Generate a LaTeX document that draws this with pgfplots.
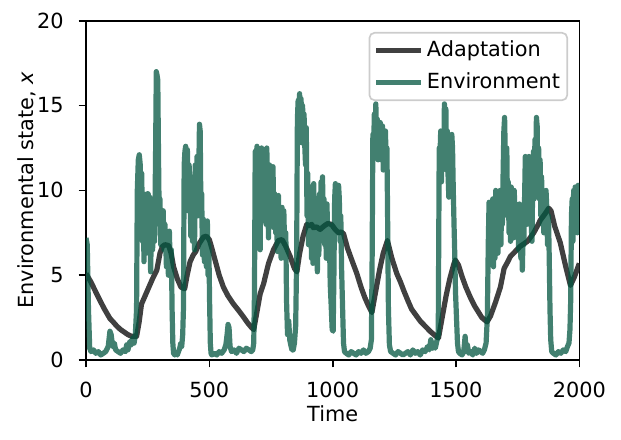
\documentclass[border=0pt]{standalone}
\usepackage{fontspec}
\setmainfont{DejaVu Sans}
\usepackage{pgfplots}
\usepackage{pgfplotstable}
\pgfplotsset{compat=1.18}
\definecolor{envc}{RGB}{3,86,64}
\definecolor{adac}{RGB}{64,64,64}
\definecolor{legedge}{RGB}{204,204,204}

\pgfplotstableread{
t y
0 5.1
20 4.6
40 4.0
57 3.5
75 3.0
97 2.45
110 2.25
125 2.0
140 1.8
155 1.65
170 1.5
185 1.4
205 1.4
215 2.2
225 3.3
240 3.8
255 4.3
270 4.8
287 5.3
300 6.3
310 6.7
320 6.8
335 6.75
345 6.3
355 5.5
370 4.8
385 4.3
400 4.2
410 5.0
422 5.8
435 6.2
445 6.4
460 6.9
476 7.25
488 7.3
500 7.1
510 6.6
525 5.8
540 5.0
557 4.3
575 3.8
598 3.3
620 2.9
638 2.55
655 2.2
672 1.9
680 1.8
690 2.6
706 3.9
720 4.5
740 5.7
760 6.5
780 7.05
795 7.1
810 6.7
828 6.1
845 5.4
855 5.2
865 6.2
880 7.3
895 8.0
905 7.9
915 8.0
922 7.8
935 7.85
949 7.7
965 7.9
980 8.05
995 8.0
1010 7.7
1024 7.5
1035 7.55
1044 7.45
1060 6.6
1080 5.8
1098 5.1
1115 4.3
1130 3.7
1145 3.2
1159 2.8
1175 4.1
1190 5.3
1205 6.3
1222 7.05
1240 6.0
1260 5.1
1275 4.6
1288 4.1
1305 3.5
1320 3.0
1340 2.6
1355 2.3
1375 2.0
1395 1.7
1415 1.45
1429 1.3
1445 2.6
1460 3.8
1475 4.8
1490 5.6
1497 5.9
1510 5.6
1525 4.9
1540 4.3
1558 3.7
1575 3.2
1590 2.85
1605 2.5
1626 2.25
1640 2.6
1660 3.4
1680 4.3
1695 5.4
1710 5.8
1720 6.1
1740 6.4
1760 6.7
1775 6.85
1790 7.0
1805 7.3
1815 7.5
1830 7.9
1842 8.25
1860 8.6
1876 8.95
1885 8.8
1900 7.9
1923 6.9
1945 5.5
1964 4.4
1980 4.9
2000 5.7
}\adaptation

\pgfplotstableread{
t y
0 7.2
5 6.8
10 3.0
15 0.7
20 0.5
30 0.6
40 0.4
50 0.5
60 0.3
70 0.4
80 0.5
90 0.8
97 1.7
102 1.5
108 0.8
115 1.0
120 0.6
130 0.5
140 0.4
150 0.6
160 0.5
165 0.9
170 0.6
178 1.1
185 0.9
190 1.3
195 1.0
200 1.5
205 3.0
208 10.0
212 11.8
216 12.1
220 11.5
223 9.2
226 11.0
229 7.0
232 9.8
235 5.8
238 9.5
242 8.8
245 6.3
248 9.8
252 9.8
255 7.0
258 9.6
262 5.2
266 8.5
270 6.5
274 9.0
278 7.0
282 12.0
285 17.0
288 16.8
291 16.5
294 12.0
297 8.0
300 9.5
303 6.8
306 8.5
310 7.5
313 8.8
316 6.5
320 8.0
323 7.0
326 5.5
330 7.2
334 5.0
338 7.6
342 5.2
346 6.5
349 3.0
352 1.0
355 0.4
360 0.3
365 0.4
370 0.3
375 0.5
380 0.7
384 1.0
388 0.8
392 1.5
395 3.0
398 11.5
401 12.3
404 12.6
408 9.5
411 12.4
414 8.8
418 11.5
421 10.5
425 7.3
428 9.8
432 7.0
436 10.8
440 6.5
443 11.5
447 9.0
450 12.0
454 8.5
457 11.0
460 13.9
463 13.5
466 8.5
469 9.8
472 6.2
476 8.3
480 5.8
484 7.6
488 5.5
492 8.2
495 5.0
498 6.8
501 3.5
504 1.0
507 0.4
510 0.3
520 0.4
530 0.3
540 0.5
550 0.4
560 0.6
567 0.9
572 1.5
576 2.1
580 1.9
584 0.8
590 0.5
600 0.6
610 0.4
620 0.7
630 0.6
640 0.5
650 0.7
660 0.6
670 0.5
676 0.6
680 1.0
683 4.0
686 12.3
690 11.5
693 12.6
697 11.0
700 12.4
703 8.0
706 6.5
709 11.2
712 12.5
716 12.2
719 9.0
722 11.5
726 11.8
730 8.0
733 12.5
737 9.5
740 7.2
744 11.5
747 9.3
751 10.5
755 8.0
758 11.4
762 7.8
765 9.8
769 7.5
772 8.5
776 6.4
780 9.7
784 7.3
787 8.7
791 6.0
795 9.0
799 7.4
802 8.8
806 6.2
810 7.5
813 3.5
817 1.5
822 2.3
826 1.2
830 0.9
835 0.6
840 0.6
845 1.0
850 2.0
854 6.0
857 14.2
860 15.3
863 15.0
866 15.7
869 13.5
872 15.4
875 12.8
878 15.0
881 13.2
884 14.5
887 12.6
890 11.5
893 13.7
896 8.5
899 11.0
902 6.8
905 9.5
908 7.5
911 10.2
914 6.0
917 8.5
920 5.7
923 10.4
926 8.0
929 6.6
932 9.0
935 7.5
938 5.2
941 8.5
944 6.2
947 9.8
950 7.0
953 10.5
956 8.0
959 10.8
962 7.2
965 9.5
968 6.8
971 8.8
974 6.0
977 9.2
980 7.0
983 6.2
986 8.0
990 4.5
994 3.2
998 1.8
1002 1.7
1005 5.0
1008 9.5
1011 10.4
1014 8.0
1017 9.8
1020 7.5
1024 10.3
1027 9.5
1030 7.0
1033 8.5
1036 5.5
1040 3.2
1044 1.0
1048 0.5
1055 0.4
1065 0.3
1075 0.5
1085 0.4
1095 0.3
1105 0.5
1115 0.4
1125 0.6
1135 0.4
1145 0.5
1152 0.7
1157 1.2
1160 6.0
1163 13.3
1166 12.5
1169 14.5
1172 13.2
1175 15.1
1178 12.8
1181 14.2
1184 11.8
1187 13.9
1190 12.5
1193 14.0
1196 12.0
1199 11.8
1202 13.8
1205 11.2
1208 12.2
1211 12.0
1214 13.5
1217 11.5
1220 12.5
1223 8.0
1226 3.0
1230 0.9
1235 0.5
1245 0.4
1255 0.3
1265 0.5
1275 0.4
1285 0.3
1295 0.4
1305 0.5
1315 0.3
1325 0.6
1335 0.4
1345 0.5
1355 0.3
1365 0.6
1375 0.5
1385 0.8
1392 0.6
1398 1.2
1404 0.7
1410 1.0
1416 0.7
1422 1.1
1428 1.5
1432 12.5
1435 12.0
1438 13.5
1441 10.5
1444 12.8
1447 13.5
1450 11.5
1453 15.1
1456 13.2
1459 14.8
1462 11.2
1465 13.5
1468 10.8
1471 9.6
1474 12.0
1477 13.0
1480 10.5
1483 13.3
1486 12.5
1489 10.0
1492 8.0
1495 6.2
1498 4.0
1502 2.5
1506 1.0
1510 0.5
1515 0.4
1525 0.3
1532 0.6
1537 1.4
1541 0.5
1546 0.9
1552 0.4
1560 0.5
1568 0.3
1576 0.7
1584 0.4
1592 0.6
1600 0.5
1608 0.4
1615 0.6
1622 1.0
1627 2.5
1631 7.0
1634 9.3
1637 8.6
1640 6.5
1643 7.0
1646 5.8
1649 9.5
1652 5.5
1655 8.0
1658 6.0
1661 10.0
1664 7.5
1667 9.6
1670 6.3
1673 8.8
1676 7.0
1679 10.0
1682 6.8
1685 9.2
1688 8.0
1691 11.0
1694 13.5
1697 14.3
1700 12.0
1703 10.0
1706 12.5
1709 8.5
1712 10.5
1715 7.5
1718 9.8
1721 7.0
1724 10.2
1727 8.0
1730 9.5
1733 7.2
1736 10.0
1739 8.8
1742 7.5
1745 9.0
1748 7.3
1751 8.8
1754 6.5
1757 9.2
1760 7.8
1763 6.0
1766 8.5
1769 5.3
1772 7.5
1775 6.8
1778 9.5
1781 12.0
1784 11.5
1787 8.0
1790 10.8
1793 9.5
1796 12.0
1799 8.5
1802 11.0
1805 8.0
1808 7.0
1811 10.5
1814 12.3
1817 9.5
1820 13.0
1823 11.5
1826 14.3
1829 13.8
1832 10.0
1835 12.5
1838 9.5
1841 11.8
1844 8.5
1847 10.8
1850 8.0
1853 9.0
1856 7.5
1859 9.5
1862 8.5
1865 10.0
1868 9.0
1871 6.8
1875 8.5
1878 6.0
1881 3.0
1884 1.2
1888 0.5
1895 0.4
1905 0.3
1915 0.5
1925 0.4
1935 0.6
1945 0.5
1952 0.8
1958 1.0
1962 1.8
1965 3.5
1968 8.5
1971 9.5
1974 7.0
1977 10.0
1980 8.2
1983 10.2
1986 8.0
1989 9.5
1992 7.5
1995 10.3
1998 8.0
2000 9.2
}\environment

\begin{document}
\fontsize{10bp}{12bp}\selectfont
\begin{tikzpicture}
\useasboundingbox (-41.28bp,-37.9bp) rectangle (256.8bp,172.84bp);
\begin{axis}[
  at={(0,0)}, anchor=south west,
  scale only axis,
  width=236.8bp, height=162.9bp,
  xmin=0, xmax=2000, ymin=0, ymax=20,
  xtick={0,500,1000,1500,2000},
  ytick={0,5,10,15,20},
  tick align=outside,
  major tick length=3.5bp,
  axis line style={line width=0.8bp, black},
  every tick/.style={line width=0.8bp, black},
  tick pos=left,
  /pgf/number format/assume math mode=true,
  /pgf/number format/set thousands separator={},
  ticklabel style={font=\fontsize{10bp}{12bp}\selectfont, inner sep=0pt},
  xticklabel style={anchor=north, yshift=-7bp},
  yticklabel style={anchor=east, xshift=-7bp},
  xlabel={Time},
  ylabel={Environmental state, {\itshape x}},
  label style={font=\fontsize{10bp}{12bp}\selectfont},
  xlabel style={at={(axis description cs:0.5,-0.1800)}, anchor=base, inner sep=0pt},
  ylabel style={at={(axis description cs:-0.1068,0.5)}, anchor=base, inner sep=0pt},
  legend cell align=left,
  legend style={
    at={(0.9772,0.9669)}, anchor=north east,
    draw=legedge, line width=0.8bp, rounded corners=2.5bp,
    fill=white, fill opacity=0.8, text opacity=1,
    font=\fontsize{10bp}{12bp}\selectfont,
    inner xsep=2bp, inner ysep=2.3bp,
    row sep=2.6bp,
    nodes={inner sep=1.5bp, text height=7.6bp, text depth=2bp},
  },
  legend image code/.code={\draw[#1, line cap=butt] (-1bp,0bp) -- (20.6bp,0bp);},
]
\addplot[adac, line width=2.5bp, line join=round] table[x=t,y=y] {\adaptation};
\addlegendentry{Adaptation}
\addplot[envc, draw opacity=0.75, line width=2.5bp, line join=round] table[x=t,y=y] {\environment};
\addlegendentry{Environment}
\end{axis}
\end{tikzpicture}
\end{document}
